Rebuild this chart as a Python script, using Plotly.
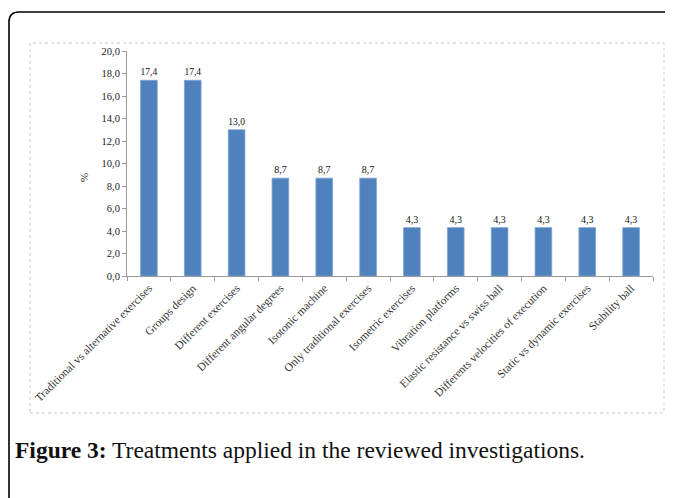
import plotly.graph_objects as go

categories = [
    "Traditional vs alternative exercises",
    "Groups design",
    "Different exercises",
    "Different angular degrees",
    "Isotonic machine",
    "Only traditional exercises",
    "Isometric exercises",
    "Vibration platforms",
    "Elastic resistance vs swiss ball",
    "Differents velocities of execution",
    "Static vs dynamic exercises",
    "Stability ball",
]
values = [17.4, 17.4, 13.0, 8.7, 8.7, 8.7, 4.3, 4.3, 4.3, 4.3, 4.3, 4.3]
y_ticks = [0, 2, 4, 6, 8, 10, 12, 14, 16, 18, 20]

OFF = 8  # browser body margin
W, H = 673 - OFF, 498 - OFF
PL, PR, PT, PB = 127, 653, 51, 276
L, T = PL - OFF, PT - OFF
R = W - (PR - OFF)
B = H - (PB - OFF)
pw, ph = PR - PL, PB - PT


def px(x):
    return (x - PL) / pw


def py(y):
    return (PB - y) / ph


serif = "Liberation Serif, Times New Roman, serif"

fig = go.Figure()
fig.add_trace(go.Bar(
    x=categories,
    y=values,
    marker=dict(color="#4F81BD", line=dict(color="#7FA3D3", width=0.8)),
    texttemplate="%{y:.1f}",
    textposition="outside",
    textfont=dict(family=serif, size=10, color="#111"),
    cliponaxis=False,
    width=0.38,
))

shapes = [
    dict(type="path", xref="paper", yref="paper",
         path=f"M {px(9)},{py(505)} L {px(9)},{py(22)} Q {px(9)},{py(12)} {px(19)},{py(12)} L {px(680)},{py(12)}",
         line=dict(color="black", width=1.6)),
    dict(type="rect", xref="paper", yref="paper",
         x0=px(30), x1=px(664), y0=py(413), y1=py(43),
         line=dict(color="#c8c8c8", width=1, dash="dot")),
]

fig.update_layout(
    width=W, height=H,
    margin=dict(l=L, r=R, t=T, b=B, autoexpand=False),
    paper_bgcolor="white", plot_bgcolor="white",
    separators=",.",
    showlegend=False,
    shapes=shapes,
    annotations=[
        dict(text="%", xref="paper", yref="paper", x=px(76), y=py(178),
             showarrow=False, textangle=-90, font=dict(family=serif, size=11, color="#222")),
        dict(text="<b>Figure 3:</b> Treatments applied in the reviewed investigations.",
             xref="paper", yref="paper", x=px(13), y=py(450), xanchor="left", yanchor="middle",
             showarrow=False, font=dict(family=serif, size=23.5, color="#111")),
    ],
)
fig.update_xaxes(
    tickangle=-45, tickfont=dict(family=serif, size=11.5, color="#333"),
    showline=True, linecolor="#999", linewidth=1,
    ticks="outside", tickson="boundaries", ticklen=4, tickcolor="#999",
    showgrid=False,
)
fig.update_yaxes(
    range=[0, 20], tickvals=y_ticks, tickformat=".1f",
    tickfont=dict(family=serif, size=10.5, color="#222"),
    showline=True, linecolor="#999", linewidth=1,
    ticks="outside", ticklen=4, tickcolor="#999",
    showgrid=False, zeroline=False,
)

fig.write_html("out.html")
